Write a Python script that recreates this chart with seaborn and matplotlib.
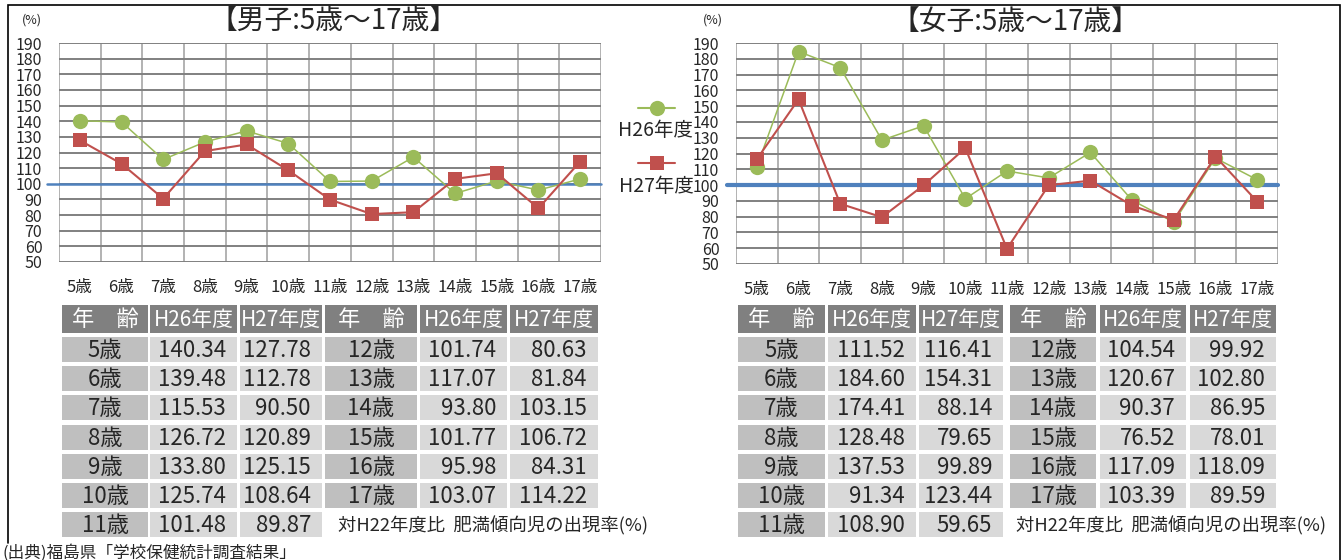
import numpy as np
import pandas as pd
import matplotlib
matplotlib.use("Agg")
import matplotlib.pyplot as plt
from matplotlib.patches import Rectangle
import seaborn as sns

# ---- data (対H22年度比 肥満傾向児の出現率, %) ----
ages = ["5歳", "6歳", "7歳", "8歳", "9歳", "10歳", "11歳",
        "12歳", "13歳", "14歳", "15歳", "16歳", "17歳"]
series_names = ["H26年度", "H27年度"]

boys_h26 = [140.34, 139.48, 115.53, 126.72, 133.80, 125.74, 101.48,
            101.74, 117.07, 93.80, 101.77, 95.98, 103.07]
boys_h27 = [127.78, 112.78, 90.50, 120.89, 125.15, 108.64, 89.87,
            80.63, 81.84, 103.15, 106.72, 84.31, 114.22]
girls_h26 = [111.52, 184.60, 174.41, 128.48, 137.53, 91.34, 108.90,
             104.54, 120.67, 90.37, 76.52, 117.09, 103.39]
girls_h27 = [116.41, 154.31, 88.14, 79.65, 99.89, 123.44, 59.65,
             99.92, 102.80, 86.95, 78.01, 118.09, 89.59]

baseline = 100
y_ticks = list(range(50, 191, 10))

GREEN = "#9bbb59"
RED = "#c0504d"
BLUE = "#4f81bd"

sns.set_style("white")
plt.rcParams["font.family"] = ["Noto Sans CJK JP", "DejaVu Sans"]

W, H = 1343, 560
fig = plt.figure(figsize=(W / 100, H / 100), dpi=100)

# background axes in pixel coordinates for frame, tables, legend
bg = fig.add_axes([0, 0, 1, 1])
bg.set_xlim(0, W)
bg.set_ylim(H, 0)
bg.axis("off")
bg.set_facecolor("none")


def px_rect(x0, y0, x1, y1):
    return [x0 / W, 1 - y1 / H, (x1 - x0) / W, (y1 - y0) / H]


def draw_chart(box, h26, h27, line_w, line_start):
    ax = fig.add_axes(px_rect(*box))
    df = pd.DataFrame({"pos": np.arange(len(ages)), "age": ages,
                       series_names[0]: h26, series_names[1]: h27})
    sns.lineplot(data=df, x="pos", y=series_names[0], ax=ax, color=GREEN,
                 lw=1.1, marker="o", markersize=11, markeredgewidth=0,
                 sort=False, zorder=4)
    sns.lineplot(data=df, x="pos", y=series_names[1], ax=ax, color=RED,
                 lw=1.5, marker="s", markersize=10.5, markeredgewidth=0,
                 sort=False, zorder=5)
    ax.axhline(baseline, xmin=line_start, xmax=1, color=BLUE, lw=line_w,
               clip_on=False, zorder=3)
    ax.set_xlim(-0.5, len(ages) - 0.5)
    ax.set_ylim(50, 190)
    ax.set_yticks(y_ticks)
    ax.set_xticks(np.arange(len(ages)))
    ax.set_xticklabels(ages)
    ax.set_xticks(np.arange(-0.5, len(ages), 1), minor=True)
    ax.grid(axis="y", which="major", color="#808080", lw=1.4)
    ax.grid(axis="x", which="minor", color="#a6a6a6", lw=1.2)
    ax.grid(axis="x", which="major", visible=False)
    ax.tick_params(axis="x", which="major", length=0, pad=12, labelsize=12)
    ax.tick_params(axis="x", which="minor", length=4, color="#bfbfbf", width=1)
    ax.tick_params(axis="y", length=0, pad=12, labelsize=11.5)
    for s in ax.spines.values():
        s.set_visible(False)
    ax.set_xlabel("")
    ax.set_ylabel("")
    ax.set_axisbelow(True)
    return ax


draw_chart((59, 43, 601, 262), boys_h26, boys_h27, 1.8, -0.022)
draw_chart((736, 43, 1278, 264), girls_h26, girls_h27, 3.0, -0.017)

# titles and unit labels
fig.text(334 / W, 1 - 22 / H, "【男子:5歳～17歳】", ha="center", va="center", fontsize=20)
fig.text(1016 / W, 1 - 22 / H, "【女子:5歳～17歳】", ha="center", va="center", fontsize=20)
bg.text(32, 20, "(%)", ha="center", va="center", fontsize=9)
bg.text(713, 20, "(%)", ha="center", va="center", fontsize=9)

# legend between the two charts
bg.plot([638, 657, 675], [108, 108, 108], color=GREEN, lw=1.5, marker="o",
        markersize=11, markeredgewidth=0, markevery=[1])
bg.text(656, 131, series_names[0], ha="center", va="center", fontsize=14)
bg.plot([638, 657, 675], [163, 163, 163], color=RED, lw=1.5, marker="s",
        markersize=10.5, markeredgewidth=0, markevery=[1])
bg.text(656, 186, series_names[1], ha="center", va="center", fontsize=14)

# outer frame
bg.plot([8, 8, 1340, 1340], [543, 5, 5, 560], color="black", lw=1.2,
        solid_joinstyle="miter")


def draw_table(cols, h26, h27, note_x):
    head_top, head_bot = 305, 333
    row0, pitch, row_h = 337, 29.2, 25
    headers = ["年　齢", series_names[0], series_names[1]] * 2
    for (x0, x1), lab in zip(cols, headers):
        bg.add_patch(Rectangle((x0, head_top), x1 - x0, head_bot - head_top,
                               color="#808080", lw=0))
        fs = 16 if lab.startswith("年") else 15
        bg.text((x0 + x1) / 2, (head_top + head_bot) / 2 + 1, lab, color="white",
                ha="center", va="center", fontsize=fs)
    n_left = 7
    for i, (age, a, b) in enumerate(zip(ages, h26, h27)):
        block = 0 if i < n_left else 1
        r = i if i < n_left else i - n_left
        top = row0 + r * pitch
        c = cols[block * 3:block * 3 + 3]
        for j, (x0, x1) in enumerate(c):
            bg.add_patch(Rectangle((x0, top), x1 - x0, row_h,
                                   color="#bfbfbf" if j == 0 else "#d9d9d9", lw=0))
        yc = top + row_h / 2 + 1
        bg.text((c[0][0] + c[0][1]) / 2, yc, age, ha="center", va="center", fontsize=16)
        bg.text(c[1][1] - 11, yc, f"{a:.2f}", ha="right", va="center", fontsize=16)
        bg.text(c[2][1] - 11, yc, f"{b:.2f}", ha="right", va="center", fontsize=16)
    bg.text(note_x, row0 + 6 * pitch + row_h / 2 + 1, "対H22年度比  肥満傾向児の出現率(%)",
            ha="left", va="center", fontsize=13.2)


draw_table([(62, 148), (150, 237), (240, 322), (325, 417), (420, 507), (510, 598)],
           boys_h26, boys_h27, 338)
draw_table([(738, 825), (828, 916), (919, 1003), (1010, 1096), (1100, 1186), (1190, 1276)],
           girls_h26, girls_h27, 1016)

bg.text(2, 553, "(出典)福島県「学校保健統計調査結果」", ha="left", va="center", fontsize=12)

fig.savefig("out.png", dpi=100)
